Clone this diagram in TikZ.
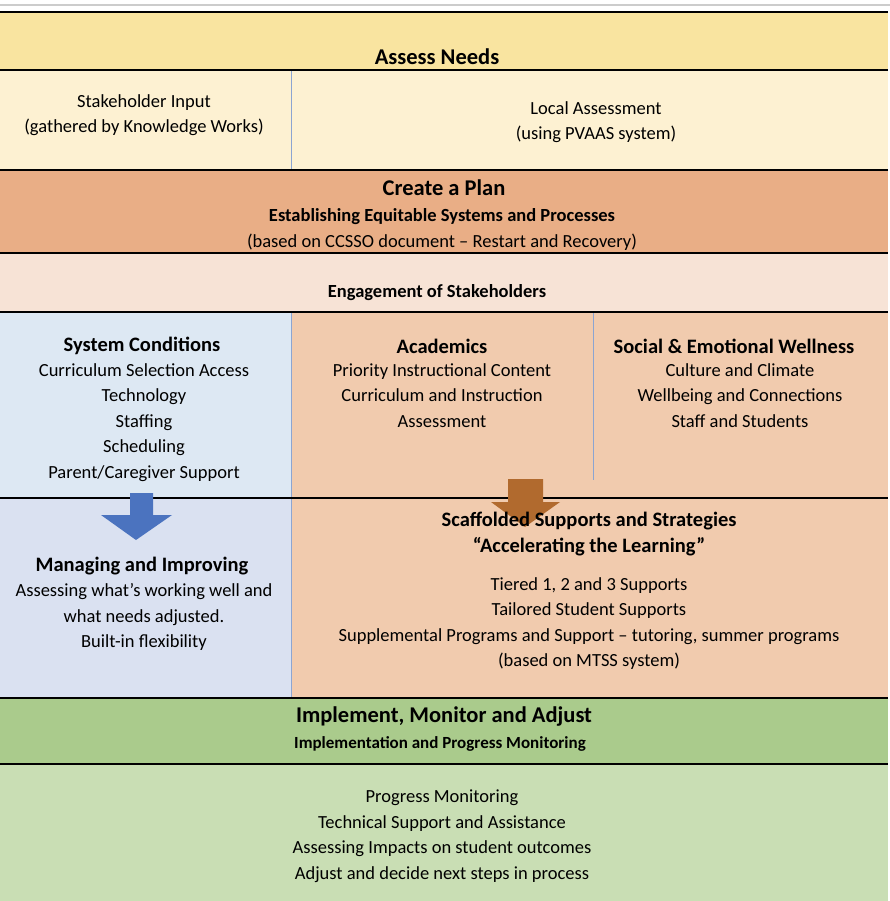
\documentclass[tikz,border=0pt]{standalone}
\usepackage{fontspec}
\setmainfont{Carlito}
\begin{document}
\begin{tikzpicture}[x=1pt,y=-1pt,
  txt/.style={align=center,font=\fontsize{18.5}{25.5}\selectfont},
  bt/.style={align=center,font=\fontsize{20.5}{25.5}\selectfont\bfseries},
  hd/.style={align=center,font=\fontsize{22.5}{25}\selectfont\bfseries},
  sep/.style={line width=2pt,black},
  vsep/.style={line width=0.8pt,color={rgb,255:red,140;green,165;blue,210}}]
\useasboundingbox (0,0) rectangle (890,901);
\fill[white] (0,0) rectangle (890,901);
\draw[gray!40,line width=2pt] (0,5) -- (890,5);
\fill[fill={rgb,255:red,249;green,228;blue,160}] (0,12) rectangle (888,70);
\fill[fill={rgb,255:red,253;green,241;blue,210}] (0,70) rectangle (888,170);
\fill[fill={rgb,255:red,233;green,174;blue,134}] (0,170) rectangle (888,253);
\fill[fill={rgb,255:red,247;green,227;blue,214}] (0,253) rectangle (888,312);
\fill[fill={rgb,255:red,221;green,232;blue,243}] (0,312) rectangle (291,498);
\fill[fill={rgb,255:red,241;green,203;blue,174}] (291,312) rectangle (888,698);
\fill[fill={rgb,255:red,218;green,225;blue,241}] (0,498) rectangle (291,698);
\fill[fill={rgb,255:red,170;green,203;blue,140}] (0,698) rectangle (888,764);
\fill[fill={rgb,255:red,201;green,222;blue,180}] (0,764) rectangle (888,901);
\draw[vsep] (291,70) -- (291,170);
\draw[vsep] (291,312) -- (291,698);
\draw[vsep] (593,312) -- (593,480);
\foreach \y in {12,70,170,253,312,498,698,764} \draw[sep] (0,\y) -- (888,\y);
\fill[fill={rgb,255:red,75;green,115;blue,191}] (130,493) -- (153,493) -- (153,515) -- (172,515) -- (136,540) -- (101,515) -- (130,515) -- cycle;
\fill[fill={rgb,255:red,177;green,106;blue,46}] (508,479) -- (543,479) -- (543,502) -- (560,502) -- (525,527) -- (491,502) -- (508,502) -- cycle;
\node[hd] (assess) at (437,57) {Assess Needs};
\node[txt] (stake) at (144,115) {Stakeholder Input\\(gathered by Knowledge Works)};
\node[txt] (local) at (596,122) {Local Assessment\\(using PVAAS system)};
\node[hd] (plan) at (444,188) {Create a Plan};
\node[txt,font=\fontsize{18.5}{25}\selectfont\bfseries] (plan2) at (442,217) {Establishing Equitable Systems and Processes};
\node[txt] (plan3) at (442,242) {(based on CCSSO document -- Restart and Recovery)};
\node[txt,font=\fontsize{18.5}{25}\selectfont\bfseries] (eng) at (437,293) {Engagement of Stakeholders};
\node[bt] (sysh) at (142,346) {System Conditions};
\node[txt,anchor=north] (sys) at (144,360) {Curriculum Selection Access\\Technology\\Staffing\\Scheduling\\Parent/Caregiver Support};
\node[bt] (acadh) at (442,346) {Academics};
\node[txt,anchor=north] (acad) at (442,360) {Priority Instructional Content\\Curriculum and Instruction\\Assessment};
\node[bt] (soch) at (734,346) {Social \& Emotional Wellness};
\node[txt,anchor=north] (soc) at (740,360) {Culture and Climate\\Wellbeing and Connections\\Staff and Students};
\node[bt] (manh) at (142,566) {Managing and Improving};
\node[txt,anchor=north] (man) at (144,580) {Assessing what’s working well and\\what needs adjusted.\\Built-in flexibility};
\node[bt] (scafh) at (589,534) {Scaffolded Supports and Strategies\\“Accelerating the Learning”};
\node[txt,anchor=north] (scaf) at (589,574) {Tiered 1, 2 and 3 Supports\\Tailored Student Supports\\Supplemental Programs and Support -- tutoring, summer programs\\(based on MTSS system)};
\node[hd] (impl) at (444,716) {Implement, Monitor and Adjust};
\node[txt,font=\fontsize{17}{22}\selectfont\bfseries] (impl2) at (440,744) {Implementation and Progress Monitoring};
\node[txt] (prog) at (442,836) {Progress Monitoring\\Technical Support and Assistance\\Assessing Impacts on student outcomes\\Adjust and decide next steps in process};
\end{tikzpicture}
\end{document}
